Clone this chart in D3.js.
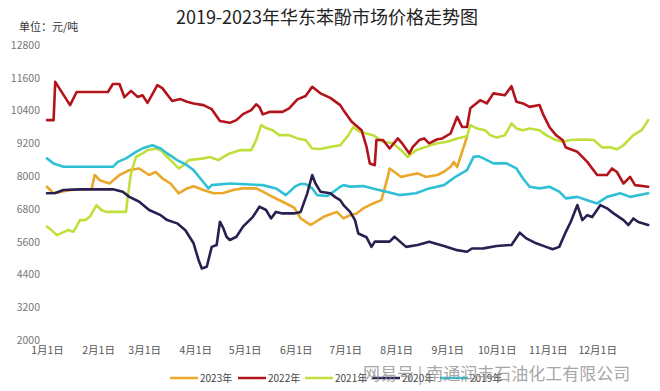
<!DOCTYPE html>
<html><head><meta charset="utf-8">
<script src="https://cdn.jsdelivr.net/npm/d3@7"></script>
<style>
html,body{margin:0;padding:0;background:#fff;}
svg{display:block;}
</style></head>
<body>
<svg id="chart" width="660" height="391"></svg>
<script>
// ---- data ----
const years = ["2023年", "2022年", "2021年", "2020年", "2019年"];
const colors = ["#eaa72a", "#b3141c", "#bfe03c", "#2b1f52", "#2fc0d6"];
const monthLabels = ["1月1日","2月1日","3月1日","4月1日","5月1日","6月1日","7月1日","8月1日","9月1日","10月1日","11月1日","12月1日"];
const monthDays = [0,31,59,90,120,151,181,212,243,273,304,334];
const yTicks = [2000,3200,4400,5600,6800,8000,9200,10400,11600,12800];

// [day of year, price 元/吨]
const s2023 = [[0,7610],[2,7490],[4,7370],[8,7415],[14,7490],[27,7520],[29,8040],[32,7850],[38,7730],[44,8040],[50,8220],[56,8280],[62,8040],[66,8150],[70,7920],[75,7730],[80,7370],[85,7550],[89,7630],[95,7490],[101,7370],[107,7380],[113,7490],[119,7550],[127,7550],[131,7430],[137,7240],[143,7060],[150,6850],[154,6450],[160,6210],[163,6320],[168,6510],[176,6690],[180,6450],[184,6570],[188,6630],[192,6820],[198,7000],[203,7120],[205,7550],[207,8000],[208,8280],[211,8150],[215,7970],[220,8040],[225,8100],[230,7970],[237,8040],[241,8160],[245,8340],[247,8520],[249,8330],[251,8700],[253,9070],[255,9440]];
const s2022 = [[0,10050],[4,10050],[5,11450],[14,10600],[18,11080],[37,11080],[40,11370],[44,11370],[47,10890],[51,11120],[55,10900],[58,10960],[61,10680],[63,10890],[67,11330],[70,11220],[76,10750],[81,10820],[85,10720],[89,10660],[95,10600],[100,10450],[105,10020],[111,9950],[115,10050],[119,10270],[124,10415],[127,10630],[129,10525],[131,10260],[135,10350],[143,10350],[147,10480],[152,10810],[157,10930],[161,11270],[166,11030],[172,10865],[178,10600],[180,10415],[185,9990],[191,9680],[194,9070],[196,8465],[199,8400],[200,9320],[204,9320],[208,9010],[213,9380],[216,9170],[220,8830],[222,9060],[226,9320],[229,9380],[232,9200],[237,9350],[240,9380],[245,9560],[249,10170],[252,9800],[255,9800],[257,10480],[263,10780],[267,10660],[271,11030],[278,10960],[282,11290],[285,10720],[289,10660],[293,10535],[299,10600],[301,10290],[305,9800],[309,9500],[313,9320],[315,9050],[322,8890],[328,8520],[334,8040],[340,8040],[343,8280],[346,8150],[350,7730],[354,7970],[357,7670],[365,7610]];
const s2021 = [[0,6150],[2,6060],[6,5840],[10,5950],[13,6025],[16,5960],[18,6170],[20,6390],[23,6390],[26,6510],[30,6940],[33,6760],[36,6690],[48,6690],[49,7240],[51,8100],[54,8700],[58,8830],[61,8950],[66,9010],[69,8950],[73,8700],[77,8465],[80,8280],[83,8400],[86,8585],[95,8650],[99,8700],[104,8585],[107,8700],[111,8830],[117,8950],[124,8950],[127,9320],[130,9870],[133,9760],[137,9680],[141,9500],[147,9500],[152,9380],[157,9320],[161,9010],[166,8990],[172,9070],[178,9130],[183,9500],[186,9800],[190,9620],[198,9500],[204,9255],[210,9200],[215,8950],[219,8700],[224,8950],[230,9070],[237,9200],[243,9255],[249,9380],[255,9460],[257,9870],[261,9745],[266,9680],[269,9500],[273,9415],[278,9500],[282,9930],[285,9745],[289,9680],[293,9745],[299,9680],[303,9500],[309,9320],[313,9255],[318,9320],[326,9340],[332,9320],[337,9050],[342,9060],[346,8980],[350,9130],[356,9500],[361,9680],[365,10050]];
const s2020 = [[0,7370],[5,7380],[10,7490],[20,7515],[40,7515],[46,7430],[50,7240],[56,7060],[62,6760],[69,6570],[73,6390],[79,6270],[84,6020],[89,5540],[92,4930],[94,4620],[97,4680],[100,5410],[103,5480],[105,6330],[107,6100],[109,5780],[111,5660],[115,5780],[119,6150],[125,6510],[129,6880],[133,6760],[136,6450],[139,6690],[143,6635],[150,6635],[154,6690],[158,7370],[161,8040],[163,7730],[166,7430],[172,7370],[175,7230],[178,7120],[180,6940],[184,6690],[187,6390],[189,5900],[194,5760],[197,5410],[199,5600],[208,5600],[211,5780],[214,5620],[218,5410],[225,5480],[232,5600],[241,5440],[249,5290],[255,5230],[258,5350],[265,5355],[273,5440],[282,5480],[287,5930],[291,5720],[297,5540],[303,5410],[307,5320],[311,5410],[315,5960],[318,6330],[322,6940],[325,6390],[328,6570],[331,6500],[336,6940],[340,6820],[344,6635],[350,6390],[353,6210],[356,6450],[359,6320],[365,6210]];
const s2019 = [[0,8650],[4,8465],[10,8340],[40,8340],[43,8520],[48,8650],[54,8890],[59,9040],[64,9130],[69,9010],[73,8830],[79,8585],[85,8400],[89,8220],[93,7920],[98,7550],[100,7670],[111,7730],[131,7670],[139,7550],[145,7305],[151,7635],[154,7710],[157,7710],[161,7550],[164,7305],[170,7270],[174,7430],[178,7610],[180,7670],[184,7615],[192,7635],[199,7525],[206,7430],[214,7305],[224,7370],[232,7550],[241,7670],[248,7975],[255,8220],[259,8705],[262,8730],[265,8650],[271,8465],[279,8465],[285,8280],[289,7915],[293,7610],[299,7550],[305,7610],[311,7430],[315,7185],[322,7240],[328,7120],[334,7000],[340,7240],[348,7370],[354,7240],[365,7370]];

const seriesData = [s2023, s2022, s2021, s2020, s2019];
const drawOrder = [0, 2, 4, 3, 1];

// ---- chart ----
const svg = d3.select("#chart");
const x = d3.scaleLinear().domain([0, 365]).range([47, 648.2]);
const y = d3.scaleLinear().domain([2000, 12800]).range([340, 45]);
const font = "'Noto Sans CJK SC','Noto Sans',sans-serif";

svg.append("text").attr("x", 327).attr("y", 24).attr("text-anchor", "middle")
  .attr("font-family", font).attr("font-size", 18).attr("fill", "#222")
  .text("2019-2023年华东苯酚市场价格走势图");
svg.append("text").attr("x", 19).attr("y", 31)
  .attr("font-family", font).attr("font-size", 11).attr("fill", "#333")
  .text("单位：元/吨");

const yAxis = d3.axisLeft(y).tickValues(yTicks).tickSize(0).tickPadding(0).tickFormat(d3.format("d"));
const gy = svg.append("g").attr("transform", "translate(40,0)").call(yAxis);
gy.select(".domain").remove();
gy.selectAll("text").attr("font-family", font).attr("font-size", 10.5).attr("fill", "#777");

const xAxis = d3.axisBottom(x).tickValues(monthDays).tickSize(0).tickPadding(0)
  .tickFormat((d, i) => monthLabels[i]);
const gx = svg.append("g").attr("transform", "translate(0,347)").call(xAxis);
gx.select(".domain").remove();
gx.selectAll("text").attr("font-family", font).attr("font-size", 10.5).attr("fill", "#555");

const line = d3.line().x(d => x(d[0])).y(d => y(d[1]));
drawOrder.forEach(i => {
  svg.append("path").datum(seriesData[i]).attr("d", line)
    .attr("fill", "none").attr("stroke", colors[i]).attr("stroke-width", 2.6)
    .attr("stroke-linejoin", "round").attr("stroke-linecap", "round");
});

// legend
const legendX = [170, 238, 305, 372, 440];
const lg = svg.append("g");
years.forEach((yr, i) => {
  lg.append("line").attr("x1", legendX[i]).attr("x2", legendX[i] + 28)
    .attr("y1", 378).attr("y2", 378).attr("stroke", colors[i]).attr("stroke-width", 2.5);
  lg.append("text").attr("x", legendX[i] + 30).attr("y", 382)
    .attr("font-family", font).attr("font-size", 10).attr("fill", "#444").text(yr);
});

// watermark
svg.append("text").attr("x", 363).attr("y", 380)
  .attr("font-family", font).attr("font-size", 17).attr("fill", "#8a8a8a").attr("opacity", 0.75)
  .text("网易号 | 南通润丰石油化工有限公司");
</script>
</body></html>
